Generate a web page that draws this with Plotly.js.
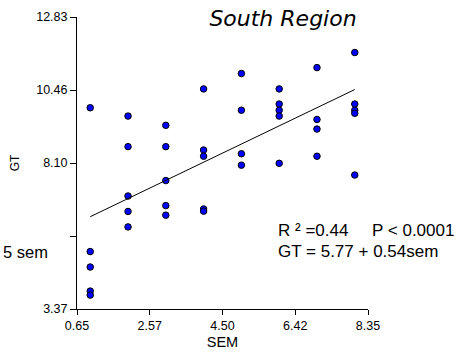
<!DOCTYPE html>
<html>
<head>
<meta charset="utf-8">
<script src="https://cdn.plot.ly/plotly-3.0.1.min.js"></script>
<style>
html, body { margin: 0; padding: 0; background: #fff; }
#chart { width: 456px; height: 354px; }
</style>
</head>
<body>
<div id="chart"></div>
<script>
const semValues = [1,1,1,1,1, 2,2,2,2,2, 3,3,3,3,3, 4,4,4,4,4, 5,5,5,5, 6,6,6,6,6, 7,7,7,7, 8,8,8,8,8];
const gtValues  = [9.89,5.23,4.73,3.95,3.82,
                   9.62,8.63,7.03,6.53,6.03,
                   9.32,8.63,7.53,6.72,6.41,
                   10.50,8.52,8.32,6.61,6.54,
                   11.00,9.81,8.40,8.03,
                   10.50,10.01,9.81,9.62,8.09,
                   11.19,9.51,9.20,8.32,
                   11.68,10.01,9.81,9.71,7.71];
// Regression line end points as drawn
const fitSem = [1, 8];
const fitGt  = [6.36, 10.48];
// Axis ticks
const xTickVals = [0.65, 2.575, 4.50, 6.425, 8.35];
const xTickText = ['0.65', '2.57', '4.50', '6.42', '8.35'];
const yTickVals = [3.37, 5.735, 8.10, 10.465, 12.83];
const yTickText = ['3.37', '', '8.10', '10.46', '12.83'];
// Texts
const titleText = 'South Region';
const statsLine1 = 'R \u00b2 =0.44\u00a0\u00a0\u00a0\u00a0\u00a0P < 0.0001';
const statsLine2 = 'GT = 5.77 + 0.54sem';
const leftClipText = '5 sem';

const font = 'Arial, "Liberation Sans", sans-serif';

const traces = [
  {
    x: semValues, y: gtValues, type: 'scatter', mode: 'markers',
    marker: { color: '#0000ff', size: 6.5, line: { color: '#000000', width: 1 } },
    hoverinfo: 'x+y', showlegend: false, cliponaxis: false
  },
  {
    x: fitSem, y: fitGt, type: 'scatter', mode: 'lines',
    line: { color: '#000000', width: 1 },
    showlegend: false, hoverinfo: 'skip'
  }
];

const layout = {
  width: 456, height: 354,
  margin: { l: 77, r: 88, t: 17, b: 45, pad: 0 },
  paper_bgcolor: '#ffffff', plot_bgcolor: '#ffffff',
  font: { family: font, color: '#000000', size: 12 },
  showlegend: false,
  title: {
    text: titleText,
    font: { family: '"DejaVu Sans", Verdana, sans-serif', size: 22, style: 'italic', color: '#000000' },
    x: (283 - 77) / 291, xref: 'paper', xanchor: 'center',
    y: 1 - 18 / 354, yref: 'container', yanchor: 'middle'
  },
  xaxis: {
    range: [0.65, 8.35], autorange: false,
    tickmode: 'array', tickvals: xTickVals, ticktext: xTickText,
    ticks: 'outside', ticklen: 5, tickwidth: 1, tickcolor: '#000000',
    showline: true, linecolor: '#000000', linewidth: 1,
    showgrid: false, zeroline: false,
    tickfont: { family: font, size: 12.5, color: '#000000' },
    title: { text: 'SEM', font: { family: font, size: 14.5, color: '#000000' }, standoff: 4 }
  },
  yaxis: {
    range: [3.37, 12.83], autorange: false,
    tickmode: 'array', tickvals: yTickVals, ticktext: yTickText,
    ticks: 'outside', ticklen: 6, tickwidth: 1, tickcolor: '#000000',
    showline: true, linecolor: '#000000', linewidth: 1,
    showgrid: false, zeroline: false,
    tickfont: { family: font, size: 12.5, color: '#000000' },
    title: { text: 'GT', font: { family: font, size: 12, color: '#000000' }, standoff: 14 }
  },
  annotations: [
    { text: statsLine1, xref: 'paper', yref: 'paper', x: (276 - 77) / 291, y: 1 - (230 - 17) / 292,
      xanchor: 'left', yanchor: 'middle', showarrow: false, font: { family: font, size: 17, color: '#000000' } },
    { text: statsLine2, xref: 'paper', yref: 'paper', x: (276 - 77) / 291, y: 1 - (251 - 17) / 292,
      xanchor: 'left', yanchor: 'middle', showarrow: false, font: { family: font, size: 17, color: '#000000' } },
    { text: leftClipText, xref: 'paper', yref: 'paper', x: (1 - 77) / 291, y: 1 - (251.5 - 17) / 292,
      xanchor: 'left', yanchor: 'middle', showarrow: false, font: { family: font, size: 16.5, color: '#000000' } }
  ]
};

Plotly.newPlot('chart', traces, layout, { staticPlot: true, displayModeBar: false });
</script>
</body>
</html>
